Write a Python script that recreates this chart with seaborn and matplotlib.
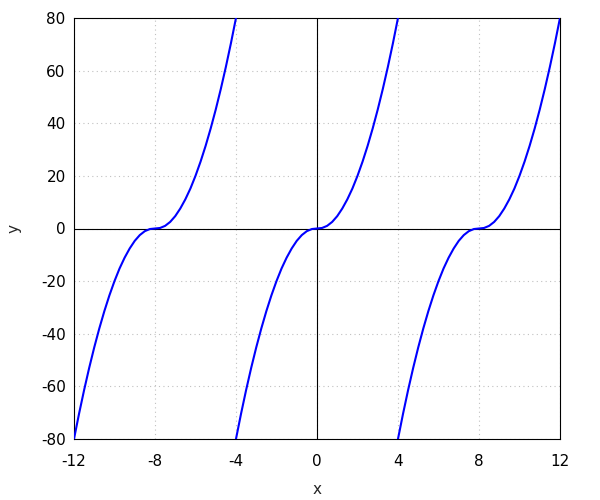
import numpy as np
import pandas as pd
import seaborn as sns
from matplotlib import pyplot as plt

# one period of the curve (offset from period centre, value)
period_t = [-4.0, -3.75, -3.5, -3.25, -3.0, -2.75, -2.5, -2.25, -2.0, -1.75, -1.5,
            -1.25, -1.0, -0.75, -0.5, -0.25, 0.0, 0.25, 0.5, 0.75, 1.0, 1.25, 1.5,
            1.75, 2.0, 2.25, 2.5, 2.75, 3.0, 3.25, 3.5, 3.75, 4.0]
period_y = [-80.0, -70.4, -61.4, -53.0, -45.2, -38.0, -31.4, -25.4, -20.0, -15.2, -11.1,
            -7.6, -4.7, -2.5, -1.0, -0.2, 0.0, 0.2, 1.0, 2.5, 4.7, 7.6, 11.1,
            15.2, 20.0, 25.4, 31.4, 38.0, 45.2, 53.0, 61.4, 70.4, 80.0]
centres = [-8, 0, 8]

x_ticks = [-12, -8, -4, 0, 4, 8, 12]
y_ticks = [-80, -60, -40, -20, 0, 20, 40, 60, 80]

sns.set_style('white')
plt.rcParams['font.family'] = ['DejaVu Sans']

fig = plt.figure(figsize=(6, 5), dpi=100)
ax = fig.add_axes([0.1233, 0.122, 0.81, 0.842])

ax.axhline(0, color='black', lw=0.8, zorder=1)
ax.axvline(0, color='black', lw=0.8, zorder=1)

for c in centres:
    df = pd.DataFrame({'x': np.array(period_t) + c, 'y': period_y})
    sns.lineplot(data=df, x='x', y='y', ax=ax, color='#0000ff', lw=1.5,
                 sort=False, estimator=None, zorder=3)

ax.set_xlim(-12, 12)
ax.set_ylim(-80, 80)
ax.set_xticks(x_ticks)
ax.set_yticks(y_ticks)
ax.set_xticklabels([str(v) for v in x_ticks])
ax.set_yticklabels([str(v) for v in y_ticks])
ax.grid(True, color='#c0c0c0', linestyle=(0, (1, 3)), lw=0.8)
ax.tick_params(direction='in', length=4.5, width=0.8, labelsize=11,
               colors='black')
ax.tick_params(axis='x', pad=11)
ax.tick_params(axis='y', pad=6)
for s in ax.spines.values():
    s.set_color('black')
    s.set_linewidth(0.8)
ax.set_xlabel('x', fontsize=11, labelpad=9)
ax.set_ylabel('y', fontsize=11, labelpad=14)

fig.savefig('out.png', dpi=100)
